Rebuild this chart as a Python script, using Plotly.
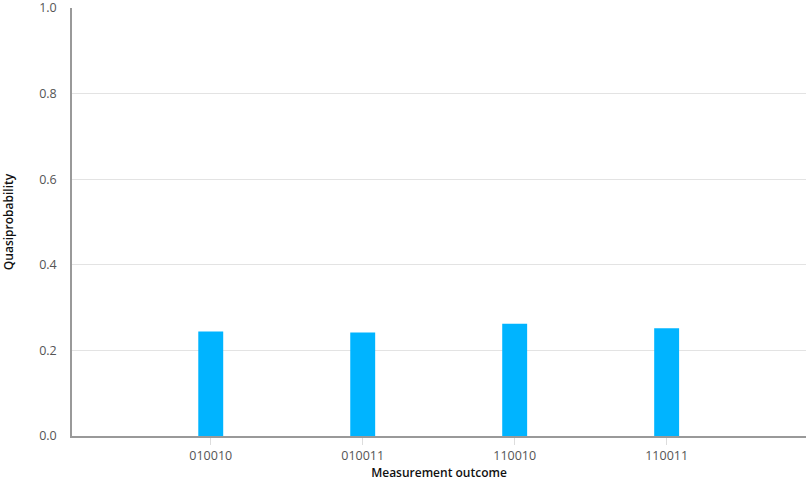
import plotly.graph_objects as go

outcomes = ["010010", "010011", "110010", "110011"]
quasiprob = [0.244, 0.242, 0.262, 0.252]
y_ticks = [0.0, 0.2, 0.4, 0.6, 0.8, 1.0]

fig = go.Figure(
    go.Bar(
        x=outcomes,
        y=quasiprob,
        width=0.164,
        marker=dict(color="#00b4ff", line=dict(width=0)),
    )
)

fig.update_layout(
    width=809,
    height=481,
    margin=dict(l=72, r=3, t=8, b=45),
    paper_bgcolor="white",
    plot_bgcolor="white",
    font=dict(family="Open Sans", color="#555555", size=12),
    showlegend=False,
)

fig.update_xaxes(
    type="category",
    range=[-0.913, 3.917],
    automargin=False,
    showline=True,
    linecolor="#999999",
    linewidth=1.5,
    ticks="outside",
    ticklen=7,
    tickcolor="#dddddd",
    tickfont=dict(size=12.5, color="#555555"),
    showgrid=False,
    title=dict(text="Measurement outcome", font=dict(size=12, color="#111111", weight=600), standoff=5),
)

fig.update_yaxes(
    range=[0, 1.0],
    automargin=False,
    tickvals=y_ticks,
    ticktext=[f"{v:.1f}" for v in y_ticks],
    ticklabeloverflow="allow",
    showline=True,
    linecolor="#999999",
    linewidth=1.5,
    ticks="outside",
    ticklen=11,
    tickcolor="rgba(0,0,0,0)",
    showgrid=True,
    gridcolor="#e3e3e3",
    gridwidth=1,
    zeroline=False,
    tickfont=dict(size=12.5, color="#555555"),
    title=dict(text="Quasiprobability", font=dict(size=12, color="#111111", weight=600), standoff=25),
)

fig.write_html(
    "out.html",
    config={"displayModeBar": False},
    post_script="document.body.style.margin='0';document.body.style.overflow='hidden';",
)
